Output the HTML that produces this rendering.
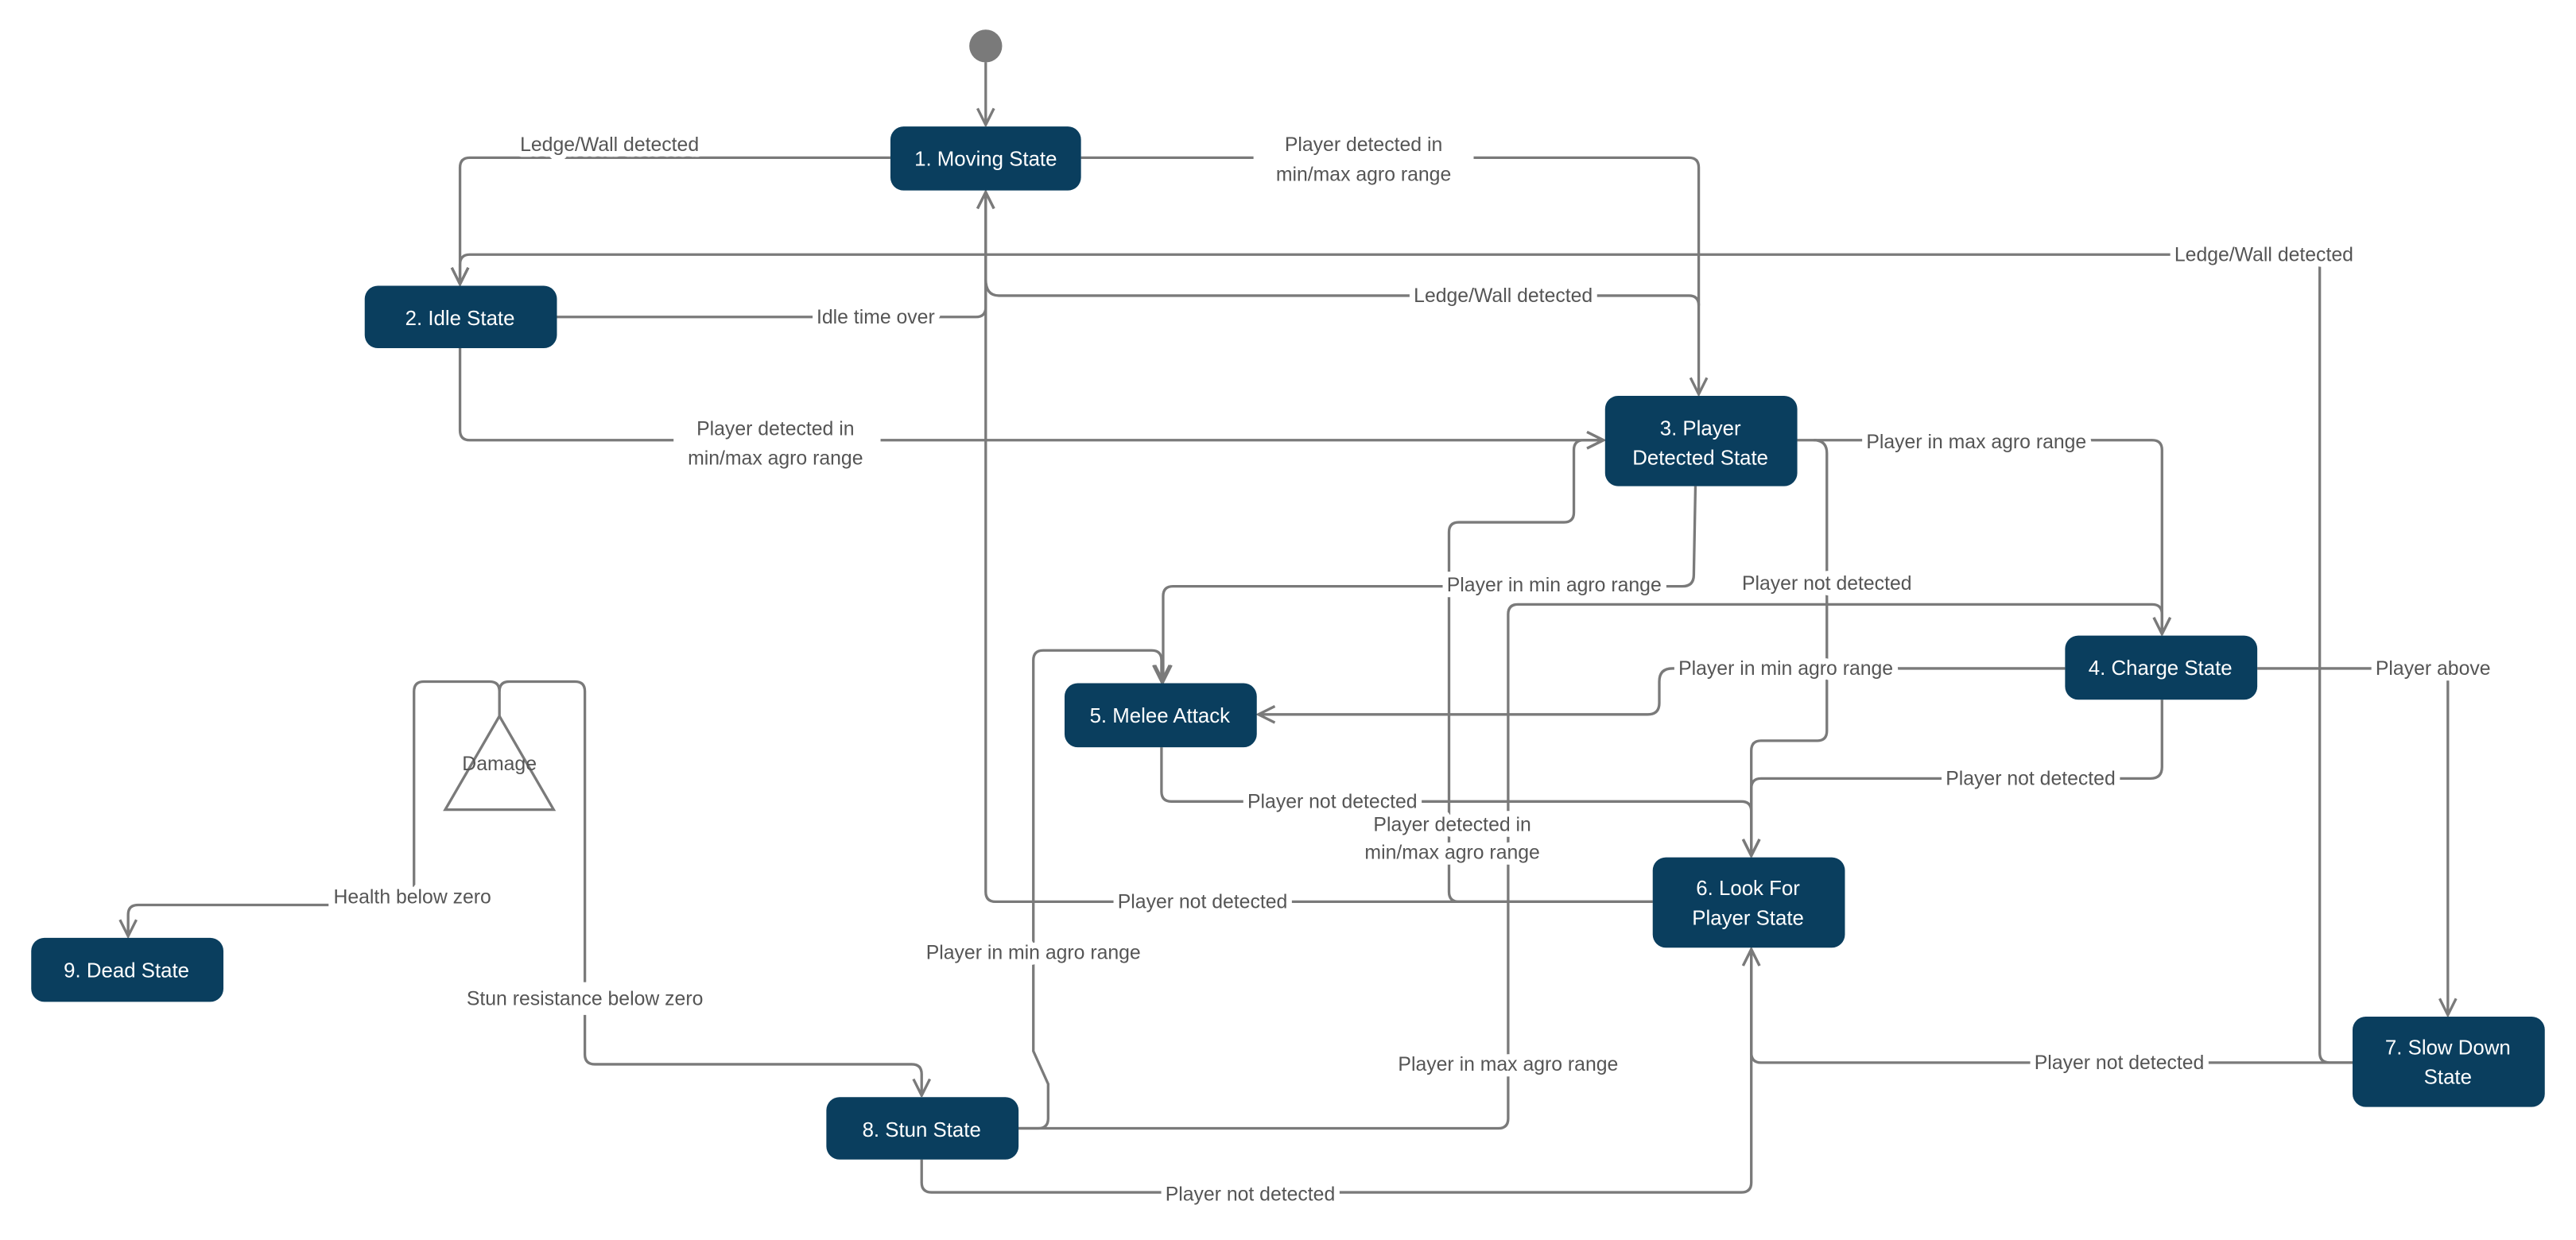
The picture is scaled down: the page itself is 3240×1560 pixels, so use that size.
<!DOCTYPE html>
<html><head><meta charset="utf-8"><style>
html,body{margin:0;padding:0;background:#fff;}
svg{display:block;}
.e{fill:none;stroke:#7a7a7a;stroke-width:1.6;marker-end:url(#a);}
.n{fill:none;stroke:#7a7a7a;stroke-width:1.6;}
.l{font-family:"Liberation Sans",sans-serif;font-size:12px;fill:#555;text-anchor:middle;paint-order:stroke;stroke:#fff;stroke-width:7px;stroke-linejoin:round;}
.b{fill:#0a3e5e;}
.t{font-family:"Liberation Sans",sans-serif;font-size:12.5px;fill:#fff;text-anchor:middle;}
</style></head><body>
<svg width="3240" height="1560" viewBox="0 0 1568 755" preserveAspectRatio="none" xmlns="http://www.w3.org/2000/svg">
<defs><marker id="a" viewBox="0 0 12 12" refX="11" refY="6" markerWidth="12" markerHeight="12" markerUnits="userSpaceOnUse" orient="auto"><path d="M1,1 L11,6 L1,11" fill="none" stroke="#7a7a7a" stroke-width="1.6"/></marker></defs>

<!-- edges -->
<circle cx="600" cy="28" r="10" fill="#7a7a7a"/>
<path class="e" d="M600,38 L600,76"/>
<path class="e" d="M542,96 L286,96 Q280,96 280,102 L280,173"/>
<path class="e" d="M658,96 L1028,96 Q1034,96 1034,102 L1034,240"/>
<path class="e" d="M1432,647 L1418,647 Q1412,647 1412,641 L1412,161 Q1412,155 1406,155 L286,155 Q280,155 280,161 L280,173"/>
<path class="e" d="M339,193 L594,193 Q600,193 600,187 L600,117"/>
<path class="n" d="M600,170 Q600,180 608,180 L1028,180 Q1034,180 1034,186"/>
<path class="e" d="M280,212 L280,262 Q280,268 286,268 L976,268"/>
<path class="e" d="M1094,268 L1310,268 Q1316,268 1316,274 L1316,386"/>
<path class="e" d="M1104,268 Q1112,268 1112,276 L1112,445 Q1112,451 1106,451 L1072,451 Q1066,451 1066,457 L1066,521"/>
<path class="e" d="M1032,296 L1031,350 Q1031,357 1024,357 L714,357 Q708,357 708,363 L708,415"/>
<path class="e" d="M1257,407 L1018,407 Q1010,407 1010,415 L1010,428 Q1010,435 1003,435 L766,435"/>
<path class="e" d="M1374,407 L1484,407 Q1490,407 1490,413 L1490,618"/>
<path class="e" d="M1316,426 L1316,467 Q1316,474 1309,474 L1072,474 Q1066,474 1066,480 L1066,521"/>
<path class="e" d="M707,455 L707,482 Q707,488 713,488 L1060,488 Q1066,488 1066,494 L1066,521"/>
<path class="e" d="M1006,549 L606,549 Q600,549 600,543 L600,117"/>
<path class="e" d="M1006,549 L888,549 Q882,549 882,543 L882,324 Q882,318 888,318 L952,318 Q958,318 958,312 L958,274 Q958,268 964,268 L976,268"/>
<path class="e" d="M620,687 L912,687 Q918,687 918,681 L918,374 Q918,368 924,368 L1310,368 Q1316,368 1316,374 L1316,386"/>
<path class="e" d="M620,687 L632,687 Q638,687 638,681 L638,660 L629,640 L629,402 Q629,396 635,396 L701,396 Q707,396 707,402 L707,415"/>
<path class="e" d="M561,706 L561,720 Q561,726 567,726 L1060,726 Q1066,726 1066,720 L1066,578"/>
<path class="e" d="M1432,647 L1072,647 Q1066,647 1066,641 L1066,578"/>
<path class="n" d="M304,436 L304,421 Q304,415 298,415 L258,415 Q252,415 252,421 L252,540"/>
<path class="e" d="M200,551 L84,551 Q78,551 78,557 L78,570"/>
<path class="n" d="M304,421 Q304,415 310,415 L350,415 Q356,415 356,421 L356,598"/>
<path class="e" d="M356,618 L356,642 Q356,648 362,648 L555,648 Q561,648 561,654 L561,667"/>
<polygon points="304,436 271,493 337,493" fill="none" stroke="#7a7a7a" stroke-width="1.6"/>

<!-- label gaps -->
<rect x="410" y="262" width="126" height="12" fill="#fff"/>
<rect x="763" y="90" width="134" height="12" fill="#fff"/>

<!-- labels -->
<text class="l" x="371" y="92">Ledge/Wall detected</text>
<text class="l" x="830" y="92">Player detected in</text>
<text class="l" x="830" y="110">min/max agro range</text>
<text class="l" x="1378" y="159">Ledge/Wall detected</text>
<text class="l" x="533" y="197">Idle time over</text>
<text class="l" x="915" y="184">Ledge/Wall detected</text>
<text class="l" x="472" y="265">Player detected in</text>
<text class="l" x="472" y="283">min/max agro range</text>
<text class="l" x="1203" y="273">Player in max agro range</text>
<text class="l" x="1112" y="359">Player not detected</text>
<text class="l" x="946" y="360">Player in min agro range</text>
<text class="l" x="1087" y="411">Player in min agro range</text>
<text class="l" x="1481" y="411">Player above</text>
<text class="l" x="1236" y="478">Player not detected</text>
<text class="l" x="811" y="492">Player not detected</text>
<text class="l" x="884" y="506">Player detected in</text>
<text class="l" x="884" y="523">min/max agro range</text>
<text class="l" x="732" y="553">Player not detected</text>
<text class="l" x="629" y="584">Player in min agro range</text>
<text class="l" x="918" y="652">Player in max agro range</text>
<text class="l" x="1290" y="651">Player not detected</text>
<text class="l" x="761" y="731">Player not detected</text>
<text class="l" x="251" y="550">Health below zero</text>
<text class="l" x="356" y="612">Stun resistance below zero</text>
<text class="l" x="304" y="469" style="stroke:none">Damage</text>

<!-- nodes -->
<rect class="b" x="542" y="77" width="116" height="39" rx="8"/><text class="t" x="600" y="101">1. Moving State</text>
<rect class="b" x="222" y="174" width="117" height="38" rx="8"/><text class="t" x="280" y="198">2. Idle State</text>
<rect class="b" x="977" y="241" width="117" height="55" rx="8"/><text class="t" x="1035" y="265">3. Player</text><text class="t" x="1035" y="283">Detected State</text>
<rect class="b" x="1257" y="387" width="117" height="39" rx="8"/><text class="t" x="1315" y="411">4. Charge State</text>
<rect class="b" x="648" y="416" width="117" height="39" rx="8"/><text class="t" x="706" y="440">5. Melee Attack</text>
<rect class="b" x="1006" y="522" width="117" height="55" rx="8"/><text class="t" x="1064" y="545">6. Look For</text><text class="t" x="1064" y="563">Player State</text>
<rect class="b" x="1432" y="619" width="117" height="55" rx="8"/><text class="t" x="1490" y="642">7. Slow Down</text><text class="t" x="1490" y="660">State</text>
<rect class="b" x="503" y="668" width="117" height="38" rx="8"/><text class="t" x="561" y="692">8. Stun State</text>
<rect class="b" x="19" y="571" width="117" height="39" rx="8"/><text class="t" x="77" y="595">9. Dead State</text>
</svg>
</body></html>
